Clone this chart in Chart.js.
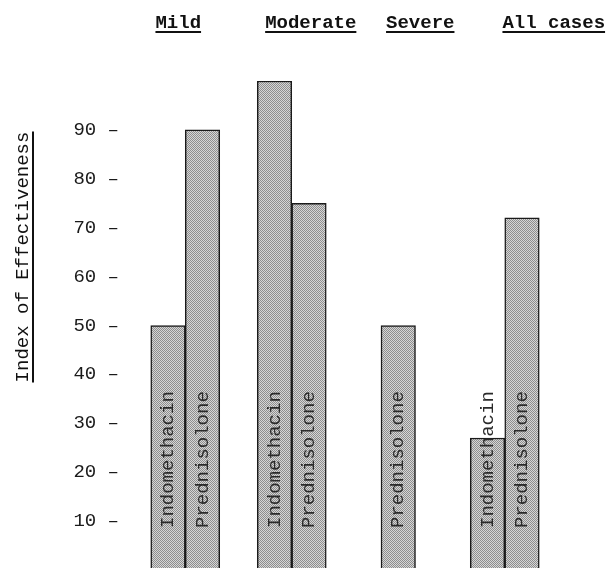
<!DOCTYPE html>
<html>
<head>
<meta charset="utf-8">
<script src="https://cdn.jsdelivr.net/npm/chart.js@4/dist/chart.umd.min.js"></script>
<style>
  html, body { margin: 0; padding: 0; background: #fff; overflow: hidden; }
  canvas { display: block; }
</style>
</head>
<body>
<canvas id="c" width="613" height="570"></canvas>
<script>
// ---- data ----
const categories = ['Mild', 'Moderate', 'Severe', 'All cases'];
const seriesNames = ['Indomethacin', 'Prednisolone'];
const indomethacin = [50, 100, null, 27];
const prednisolone = [90, 75, 50, 72];
const yTickValues = [10, 20, 30, 40, 50, 60, 70, 80, 90];
const yTitle = 'Index of Effectiveness';

// ---- styles ----
const FONT = '"Liberation Mono", "DejaVu Sans Mono", monospace';
const titleShift = [-7, 19, 22, 49];

function stipple() {
  const c = document.createElement('canvas');
  c.width = 2; c.height = 2;
  const g = c.getContext('2d');
  g.fillStyle = '#d6d6d6'; g.fillRect(0, 0, 2, 2);
  g.fillStyle = '#8e8e8e'; g.fillRect(0, 0, 1, 1); g.fillRect(1, 1, 1, 1);
  return g.createPattern(c, 'repeat');
}
const fillPat = stipple();

const barStyle = {
  backgroundColor: fillPat,
  borderColor: '#1a1a1a',
  borderWidth: 1.5,
  borderSkipped: 'bottom',
  barThickness: 34.5,
  skipNull: true
};

const decorPlugin = {
  id: 'decor',
  afterDatasetsDraw(chart) {
    const ctx = chart.ctx;
    const base = chart.scales.y.getPixelForValue(0);
    chart.data.datasets.forEach((ds, di) => {
      const meta = chart.getDatasetMeta(di);
      meta.data.forEach((bar, i) => {
        if (ds.data[i] == null) return;
        ctx.save();
        ctx.translate(bar.x, base - 42);
        ctx.rotate(-Math.PI / 2);
        ctx.font = '19px ' + FONT;
        ctx.fillStyle = '#2a2a2a';
        ctx.textAlign = 'left';
        ctx.textBaseline = 'middle';
        ctx.fillText(ds.label, 0, 0);
        ctx.restore();
      });
    });
  },
  afterDraw(chart) {
    const ctx = chart.ctx;
    const xs = chart.scales.x;
    ctx.save();
    ctx.font = 'bold 19px ' + FONT;
    ctx.fillStyle = '#111';
    ctx.strokeStyle = '#111';
    ctx.lineWidth = 2;
    ctx.textAlign = 'center';
    ctx.textBaseline = 'middle';
    categories.forEach((t, i) => {
      const cx = xs.getPixelForValue(i) + titleShift[i];
      const w = ctx.measureText(t).width;
      ctx.fillText(t, cx, 23);
      ctx.beginPath();
      ctx.moveTo(cx - w / 2, 32);
      ctx.lineTo(cx + w / 2, 32);
      ctx.stroke();
    });
    // y title
    ctx.translate(23, 257);
    ctx.rotate(-Math.PI / 2);
    ctx.font = '19px ' + FONT;
    const w = ctx.measureText(yTitle).width;
    ctx.fillText(yTitle, 0, 0);
    ctx.beginPath();
    ctx.moveTo(-w / 2, 10);
    ctx.lineTo(w / 2, 10);
    ctx.stroke();
    ctx.restore();
  }
};

new Chart(document.getElementById('c'), {
  type: 'bar',
  data: {
    labels: categories,
    datasets: [
      Object.assign({ label: seriesNames[0], data: indomethacin }, barStyle),
      Object.assign({ label: seriesNames[1], data: prednisolone }, barStyle)
    ]
  },
  options: {
    responsive: false,
    animation: false,
    layout: { padding: { top: 81, right: 55, bottom: 0, left: 0 } },
    plugins: { legend: { display: false }, tooltip: { enabled: false }, colors: { enabled: false } },
    scales: {
      x: { display: false },
      y: {
        min: 0, max: 100,
        afterFit(s) { s.width = 132; s.paddingTop = 0; s.paddingBottom = 0; },
        border: { display: false },
        grid: { display: false, drawTicks: false },
        afterBuildTicks(s) { s.ticks = yTickValues.map(v => ({ value: v })); },
        ticks: {
          padding: 13,
          color: '#1a1a1a',
          font: { family: FONT, size: 19 },
          callback: v => v + ' \u2013'
        }
      }
    }
  },
  plugins: [decorPlugin]
});
</script>
</body>
</html>
